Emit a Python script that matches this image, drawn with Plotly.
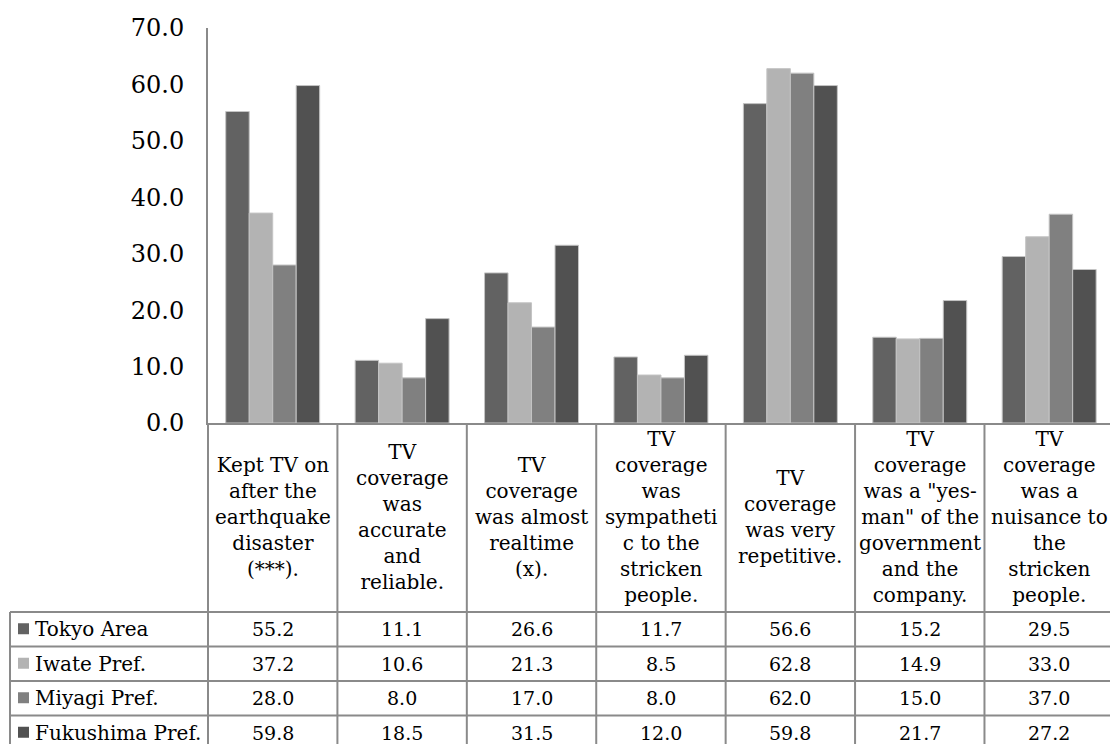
import plotly.graph_objects as go

# Survey categories (one column each in the chart and the data table)
categories = [
    "Kept TV on<br>after the<br>earthquake<br>disaster<br>(***).",
    "TV<br>coverage<br>was<br>accurate<br>and<br>reliable.",
    "TV<br>coverage<br>was almost<br>realtime<br>(x).",
    "TV<br>coverage<br>was<br>sympatheti<br>c to the<br>stricken<br>people.",
    "TV<br>coverage<br>was very<br>repetitive.",
    "TV<br>coverage<br>was a \"yes-<br>man\" of the<br>government<br>and the<br>company.",
    "TV<br>coverage<br>was a<br>nuisance to<br>the<br>stricken<br>people.",
]

series_names = ["Tokyo Area", "Iwate Pref.", "Miyagi Pref.", "Fukushima Pref."]
tokyo_area = [55.2, 11.1, 26.6, 11.7, 56.6, 15.2, 29.5]
iwate_pref = [37.2, 10.6, 21.3, 8.5, 62.8, 14.9, 33.0]
miyagi_pref = [28.0, 8.0, 17.0, 8.0, 62.0, 15.0, 37.0]
fukushima_pref = [59.8, 18.5, 31.5, 12.0, 59.8, 21.7, 27.2]

y_ticks = [0, 10, 20, 30, 40, 50, 60, 70]

series_values = [tokyo_area, iwate_pref, miyagi_pref, fukushima_pref]
series_colors = ["#626262", "#b3b3b3", "#808080", "#515151"]

FONT = "DejaVu Serif"
LINE = "#8a8a8a"

W, H = 1110, 744
ML, MR, MT, MB = 208, 0, 28, 321
plot_w = W - ML - MR
plot_h = H - MT - MB

x_range = [-0.5, 6.47]


def px_x(xp):
    """Pixel x -> paper x."""
    return (xp - ML) / plot_w


def px_y(yp):
    """Pixel y (from top) -> paper y."""
    return (H - MB - yp) / plot_h


def data_x(v):
    """Category coordinate -> paper x."""
    return (v - x_range[0]) / (x_range[1] - x_range[0])


xs = list(range(len(categories)))

fig = go.Figure()
for name, vals, col in zip(series_names, series_values, series_colors):
    fig.add_trace(go.Bar(
        x=xs, y=vals, name=name,
        marker=dict(color=col, line=dict(color="#c4c4c4", width=1)),
        showlegend=False,
    ))

shapes = []
# category header / table geometry
y_axis_px = H - MB          # baseline of the bars
table_top_px = 612
row_h = 34.5
rows_px = [table_top_px + row_h * i for i in range(len(series_names) + 1)]
table_left_px = 10

# vertical dividers between categories (down through the table)
for i in range(len(categories)):
    xv = data_x(i + 0.5)
    if xv <= 1:
        shapes.append(dict(type="line", xref="paper", yref="paper",
                           x0=xv, x1=xv, y0=px_y(y_axis_px), y1=px_y(H + 10),
                           line=dict(color=LINE, width=2)))
# left edge of category area (continuation of the y axis)
shapes.append(dict(type="line", xref="paper", yref="paper",
                   x0=0, x1=0, y0=px_y(y_axis_px), y1=px_y(H + 10),
                   line=dict(color=LINE, width=2)))
# left edge of the table (legend column)
shapes.append(dict(type="line", xref="paper", yref="paper",
                   x0=px_x(table_left_px), x1=px_x(table_left_px),
                   y0=px_y(table_top_px), y1=px_y(H + 10),
                   line=dict(color=LINE, width=2)))
# horizontal row lines of the table
for yp in rows_px:
    shapes.append(dict(type="line", xref="paper", yref="paper",
                       x0=px_x(table_left_px), x1=1.01, y0=px_y(yp), y1=px_y(yp),
                       line=dict(color=LINE, width=2)))

annotations = []
# category labels
for i, cat in enumerate(categories):
    annotations.append(dict(
        x=i, xref="x", y=px_y(517), yref="paper",
        text=cat, showarrow=False, xanchor="center", yanchor="middle",
        align="center", font=dict(family=FONT, size=20, color="#000000"),
    ))

# table rows: legend key + values
for r, (name, vals, col) in enumerate(zip(series_names, series_values, series_colors)):
    yc = rows_px[r] + row_h / 2
    shapes.append(dict(type="rect", xref="paper", yref="paper",
                       x0=px_x(18), x1=px_x(29), y0=px_y(yc - 6), y1=px_y(yc + 5),
                       fillcolor=col, line=dict(width=0)))
    annotations.append(dict(
        x=px_x(33), xref="paper", y=px_y(yc), yref="paper",
        text=name, showarrow=False, xanchor="left", yanchor="middle",
        font=dict(family=FONT, size=20, color="#000000"),
    ))
    for i, v in enumerate(vals):
        annotations.append(dict(
            x=i, xref="x", y=px_y(yc), yref="paper",
            text=f"{v:.1f}", showarrow=False, xanchor="center", yanchor="middle",
            font=dict(family=FONT, size=19, color="#000000"),
        ))

fig.update_layout(
    width=W, height=H,
    margin=dict(l=ML, r=MR, t=MT, b=MB, pad=0),
    paper_bgcolor="white", plot_bgcolor="white",
    barmode="group", bargap=0.274, bargroupgap=0,
    font=dict(family=FONT, color="#000000"),
    shapes=shapes, annotations=annotations,
    xaxis=dict(range=x_range, showticklabels=False, ticks="",
               showgrid=False, zeroline=False,
               showline=True, linecolor=LINE, linewidth=2),
    yaxis=dict(range=[0, 70], tickvals=y_ticks, tickformat=".1f",
               showgrid=False, zeroline=False, ticks="",
               showline=True, linecolor=LINE, linewidth=2,
               ticklabelstandoff=17,
               tickfont=dict(family=FONT, size=24, color="#000000")),
)

fig.write_html("out.html")
